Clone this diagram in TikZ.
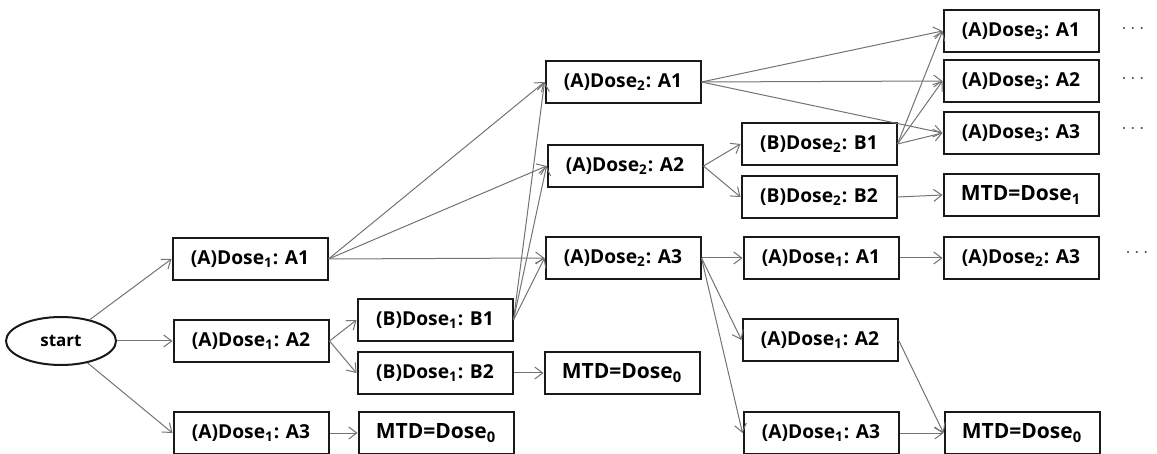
\documentclass[tikz,border=0pt]{standalone}
\usepackage{fontspec}
\setmainfont{Open Sans}
\usetikzlibrary{shapes,arrows.meta}

\begin{document}
\begin{tikzpicture}[x=0.5pt,y=-0.5pt,
  >={Straight Barb[length=4pt,width=6pt]},
  box/.style={draw=black!90,line width=1pt,minimum width=77.5pt,minimum height=21pt,inner sep=1pt,font=\fontsize{9.6}{10}\selectfont\bfseries},
  mtdbox/.style={box,font=\fontsize{10.5}{11}\selectfont\bfseries},
  edge/.style={->,draw=black!55,line width=0.5pt},
  more/.style={text=black!70}]
\useasboundingbox (0,0) rectangle (1157,454);

\node[ellipse,draw=black!90,line width=1pt,minimum width=55pt,minimum height=24pt,font=\fontsize{8.5}{9}\selectfont\bfseries] (start) at (61,341) {start};

\node[box] (d1a1) at (250,259) {(A)Dose\textsubscript{1}: A1};
\node[box] (d1a2) at (251,341) {(A)Dose\textsubscript{1}: A2};
\node[box] (d1a3) at (251,433) {(A)Dose\textsubscript{1}: A3};

\node[box] (b1b1) at (435,320) {(B)Dose\textsubscript{1}: B1};
\node[box] (b1b2) at (435,373) {(B)Dose\textsubscript{1}: B2};
\node[mtdbox] (mtdl) at (436,433) {MTD=Dose\textsubscript{0}};
\node[mtdbox] (mtdm) at (622,373) {MTD=Dose\textsubscript{0}};

\node[box] (d2a1) at (623,82) {(A)Dose\textsubscript{2}: A1};
\node[box] (d2a2) at (625,166) {(A)Dose\textsubscript{2}: A2};
\node[box] (d2a3) at (623,258) {(A)Dose\textsubscript{2}: A3};

\node[box] (b2b1) at (819,144) {(B)Dose\textsubscript{2}: B1};
\node[box] (b2b2) at (819,197) {(B)Dose\textsubscript{2}: B2};

\node[box] (d3a1) at (1021,31) {(A)Dose\textsubscript{3}: A1};
\node[box] (d3a2) at (1021,81) {(A)Dose\textsubscript{3}: A2};
\node[box] (d3a3) at (1021,133) {(A)Dose\textsubscript{3}: A3};
\node[mtdbox] (mtdr1) at (1021,195) {MTD=Dose\textsubscript{1}};

\node[box] (e1a1) at (821,258) {(A)Dose\textsubscript{1}: A1};
\node[box] (e1a2) at (820,340) {(A)Dose\textsubscript{1}: A2};
\node[box] (e1a3) at (821,433) {(A)Dose\textsubscript{1}: A3};
\node[box] (e2a3) at (1021,258) {(A)Dose\textsubscript{2}: A3};
\node[mtdbox] (mtdr0) at (1022,433) {MTD=Dose\textsubscript{0}};

\node[more] (dots1) at (1133,29) {$\cdots$};
\node[more] (dots2) at (1133,79) {$\cdots$};
\node[more] (dots3) at (1133,129) {$\cdots$};
\node[more] (dots4) at (1137,253) {$\cdots$};

\draw[edge] (start) -- (d1a1.west);
\draw[edge] (start) -- (d1a2.west);
\draw[edge] (start) -- (d1a3.west);

\draw[edge] (d1a1.east) -- (d2a1.west);
\draw[edge] (d1a1.east) -- (d2a2.west);
\draw[edge] (d1a1.east) -- (d2a3.west);

\draw[edge] (d1a2.east) -- (b1b1.west);
\draw[edge] (d1a2.east) -- (b1b2.west);
\draw[edge] (d1a3.east) -- (mtdl.west);

\draw[edge] (b1b1.east) -- (d2a1.west);
\draw[edge] (b1b1.east) -- (d2a2.west);
\draw[edge] (b1b1.east) -- (d2a3.west);
\draw[edge] (b1b2.east) -- (mtdm.west);

\draw[edge] (d2a1.east) -- (d3a1.west);
\draw[edge] (d2a1.east) -- (d3a2.west);
\draw[edge] (d2a1.east) -- (d3a3.west);

\draw[edge] (d2a2.east) -- (b2b1.west);
\draw[edge] (d2a2.east) -- (b2b2.west);

\draw[edge] (b2b1.east) -- (d3a1.west);
\draw[edge] (b2b1.east) -- (d3a2.west);
\draw[edge] (b2b1.east) -- (d3a3.west);
\draw[edge] (b2b2.east) -- (mtdr1.west);

\draw[edge] (d2a3.east) -- (e1a1.west);
\draw[edge] (d2a3.east) -- (e1a2.west);
\draw[edge] (d2a3.east) -- (e1a3.west);

\draw[edge] (e1a1.east) -- (e2a3.west);
\draw[edge] (e1a2.east) -- (mtdr0.west);
\draw[edge] (e1a3.east) -- (mtdr0.west);

\end{tikzpicture}
\end{document}
